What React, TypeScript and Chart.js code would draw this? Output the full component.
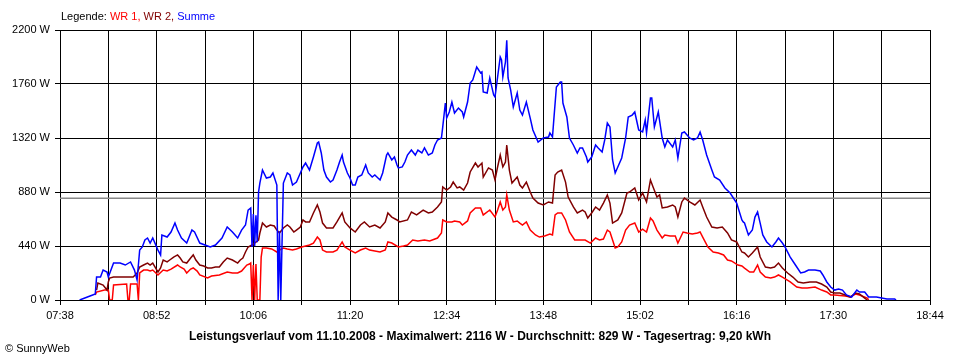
import React, { useEffect, useRef } from "react";
import { Chart, registerables } from "chart.js";

Chart.register(...registerables);

// ---- axis / labels ----
const startTime = "07:38";
const endTime = "18:44";
const xLabelTimes = ["07:38", "08:52", "10:06", "11:20", "12:34", "13:48", "15:02", "16:16", "17:30", "18:44"];
const yTicks = [0, 440, 880, 1320, 1760, 2200];
const averageW = 829;

const legendPrefix = "Legende: ";
const seriesNames = ["WR 1", "WR 2", "Summe"];
const titleText = "Leistungsverlauf vom 11.10.2008 - Maximalwert: 2116 W - Durchschnitt: 829 W - Tagesertrag: 9,20 kWh";
const copyrightText = "© SunnyWeb";

// ---- data: minutes after 07:38, watts ----
const sumMin = [15, 19, 25, 27, 28, 31, 33, 36, 37, 41, 46, 50, 54, 57, 59, 60, 61, 63, 65, 67, 69, 71, 75, 77, 78, 82, 85, 88, 90, 93, 97, 101, 103, 107, 111, 115, 119, 124, 128, 132, 136, 139, 142, 144, 146, 147, 148, 149, 150, 151, 152, 153, 155, 158, 161, 163, 166, 167, 168, 169, 171, 174, 176, 178, 181, 184, 186, 188, 191, 194, 197, 198, 200, 202, 204, 207, 209, 212, 214, 216, 217, 220, 222, 224, 226, 228, 231, 234, 236, 239, 241, 245, 247, 250, 251, 254, 256, 258, 259, 262, 264, 266, 269, 272, 274, 277, 279, 282, 285, 287, 289, 292, 293, 295, 296, 298, 300, 302, 305, 308, 309, 312, 314, 316, 319, 322, 323, 324, 327, 329, 332, 333, 335, 337, 338, 339, 341, 342, 343, 345, 347, 350, 352, 354, 357, 360, 362, 366, 370, 374, 375, 377, 378, 380, 383, 384, 385, 388, 390, 393, 396, 398, 400, 403, 404, 407, 410, 412, 415, 417, 419, 421, 423, 425, 427, 430, 433, 435, 438, 440, 443, 446, 448, 449, 452, 453, 455, 458, 461, 463, 465, 469, 471, 473, 476, 478, 482, 485, 488, 490, 492, 495, 499, 501, 505, 509, 513, 518, 522, 523, 524, 527, 530, 532, 534, 536, 538, 541, 545, 548, 550, 553, 555, 559, 563, 567, 570, 573, 578, 582, 584, 587, 590, 593, 596, 599, 602, 606, 610, 612, 616, 619, 625, 633, 639, 640];
const sumW = [0, 16, 41, 49, 187, 187, 244, 228, 187, 301, 301, 285, 310, 244, 163, 285, 407, 432, 489, 505, 464, 505, 407, 367, 530, 513, 554, 627, 570, 505, 464, 570, 554, 464, 448, 432, 448, 505, 595, 554, 505, 570, 611, 733, 750, 432, 700, 440, 690, 470, 880, 953, 1059, 994, 1002, 1035, 937, 0, 560, 0, 953, 1035, 1019, 937, 961, 1035, 1084, 1116, 1059, 1165, 1279, 1287, 1198, 1059, 1002, 961, 978, 1059, 1124, 1181, 1124, 1035, 994, 937, 937, 1002, 1019, 1100, 1035, 1002, 1019, 978, 1035, 1181, 1198, 1141, 1165, 1100, 1076, 1084, 1124, 1181, 1222, 1181, 1222, 1198, 1239, 1181, 1198, 1263, 1304, 1320, 1410, 1605, 1483, 1532, 1613, 1524, 1564, 1532, 1491, 1613, 1768, 1793, 1898, 1850, 1858, 1695, 1687, 1809, 1670, 1654, 1817, 1980, 1956, 1817, 1939, 2116, 1809, 1711, 1573, 1687, 1548, 1507, 1613, 1480, 1385, 1287, 1320, 1328, 1361, 1328, 1467, 1736, 1776, 1776, 1605, 1491, 1320, 1263, 1198, 1239, 1239, 1165, 1124, 1165, 1263, 1239, 1206, 1304, 1442, 1410, 1141, 1035, 1084, 1157, 1320, 1491, 1507, 1532, 1385, 1369, 1467, 1361, 1646, 1646, 1410, 1532, 1320, 1247, 1304, 1247, 1304, 1157, 1361, 1369, 1320, 1304, 1320, 1369, 1304, 1181, 1059, 1002, 978, 913, 872, 790, 652, 636, 627, 530, 570, 676, 717, 627, 530, 473, 432, 473, 505, 464, 432, 350, 285, 220, 228, 244, 244, 236, 204, 147, 106, 81, 90, 81, 41, 24, 81, 65, 65, 24, 24, 8, 8, 0];

const wr2Min = [28, 29, 33, 36, 37, 38, 41, 50, 56, 59, 61, 64, 67, 69, 71, 75, 77, 79, 82, 84, 87, 90, 92, 94, 97, 100, 102, 104, 107, 110, 113, 116, 119, 122, 125, 128, 132, 136, 138, 140, 142, 144, 147, 152, 153, 155, 158, 161, 164, 166, 168, 171, 174, 176, 179, 181, 184, 186, 188, 191, 194, 197, 199, 201, 204, 209, 212, 216, 218, 222, 226, 230, 233, 237, 241, 245, 249, 251, 254, 258, 260, 266, 269, 273, 278, 282, 285, 289, 292, 293, 296, 299, 301, 304, 306, 309, 312, 314, 318, 320, 323, 324, 328, 331, 333, 335, 337, 339, 341, 342, 344, 346, 350, 352, 354, 357, 360, 362, 366, 370, 374, 377, 379, 381, 384, 387, 389, 393, 396, 400, 402, 404, 407, 410, 413, 416, 419, 421, 423, 427, 430, 434, 436, 440, 443, 446, 449, 452, 454, 457, 459, 461, 465, 469, 471, 473, 476, 478, 482, 486, 490, 492, 495, 499, 503, 507, 511, 514, 518, 522, 524, 527, 530, 534, 536, 540, 544, 547, 550, 553, 557, 561, 565, 569, 574, 579, 583, 587, 590, 593, 597, 601, 605, 609, 612, 616, 618];
const wr2W = [81, 139, 122, 81, 147, 179, 187, 187, 187, 220, 269, 285, 301, 285, 301, 228, 261, 326, 310, 326, 350, 367, 342, 310, 301, 342, 367, 326, 285, 277, 261, 261, 269, 269, 310, 342, 326, 301, 326, 342, 391, 432, 448, 489, 546, 627, 595, 611, 603, 570, 546, 587, 611, 595, 554, 570, 595, 652, 636, 636, 709, 774, 717, 627, 587, 587, 636, 709, 636, 587, 554, 611, 636, 595, 611, 587, 636, 709, 676, 652, 636, 652, 717, 693, 733, 709, 717, 758, 799, 921, 896, 921, 961, 913, 921, 896, 953, 1043, 1116, 1084, 1116, 1002, 1076, 1059, 978, 1084, 1181, 1084, 1124, 1263, 1059, 953, 1002, 937, 913, 961, 880, 831, 790, 774, 799, 790, 1019, 1043, 1059, 961, 839, 758, 709, 733, 717, 668, 709, 758, 733, 790, 856, 790, 627, 652, 709, 872, 880, 913, 815, 872, 799, 978, 921, 839, 856, 750, 758, 774, 758, 676, 799, 831, 799, 774, 815, 758, 676, 595, 587, 595, 546, 489, 473, 391, 383, 350, 383, 432, 350, 269, 261, 269, 301, 261, 220, 187, 147, 139, 147, 147, 130, 106, 65, 57, 57, 41, 24, 57, 49, 16, 0];

const wr1Min = [27, 28, 34, 37, 38, 40, 41, 51, 52, 53, 54, 59, 60, 61, 64, 67, 69, 71, 75, 79, 82, 85, 90, 92, 95, 97, 100, 102, 105, 107, 113, 116, 122, 128, 132, 136, 139, 143, 145, 146, 147, 148, 149, 150, 151, 152, 153, 154, 155, 158, 162, 166, 168, 171, 174, 178, 181, 185, 188, 191, 194, 197, 199, 201, 204, 209, 212, 216, 218, 222, 226, 230, 234, 237, 241, 245, 249, 251, 254, 259, 263, 266, 270, 274, 279, 283, 289, 292, 293, 296, 300, 302, 306, 308, 312, 314, 318, 322, 324, 328, 329, 333, 335, 337, 339, 341, 342, 344, 347, 350, 352, 354, 357, 360, 364, 367, 371, 375, 377, 379, 381, 384, 387, 390, 394, 398, 402, 406, 410, 413, 416, 419, 421, 425, 427, 430, 433, 436, 440, 443, 446, 449, 452, 454, 457, 461, 463, 467, 471, 473, 477, 480, 484, 488, 490, 492, 496, 500, 504, 508, 511, 514, 519, 522, 524, 528, 531, 534, 536, 540, 544, 547, 550, 553, 559, 564, 568, 572, 578, 583, 587, 590, 593, 601, 605, 609, 612, 618, 619];
const wr1W = [41, 65, 81, 81, 0, 0, 122, 130, 0, 0, 130, 130, 0, 220, 244, 244, 236, 244, 204, 244, 236, 252, 285, 269, 252, 220, 252, 261, 236, 204, 179, 195, 204, 228, 220, 220, 236, 285, 293, 301, 0, 285, 0, 293, 0, 0, 0, 350, 424, 424, 416, 391, 407, 424, 416, 407, 416, 432, 440, 448, 464, 513, 489, 407, 391, 391, 407, 473, 432, 407, 383, 407, 424, 407, 399, 391, 407, 473, 464, 432, 440, 448, 489, 481, 489, 481, 505, 546, 652, 636, 636, 644, 636, 611, 644, 709, 750, 750, 693, 725, 733, 676, 733, 799, 733, 758, 856, 733, 636, 644, 627, 611, 636, 570, 530, 513, 522, 538, 530, 693, 709, 709, 652, 554, 489, 489, 489, 464, 505, 489, 497, 570, 554, 424, 432, 473, 570, 611, 627, 554, 578, 554, 668, 644, 570, 505, 530, 522, 522, 464, 554, 546, 538, 546, 554, 513, 432, 391, 383, 367, 326, 318, 285, 277, 260, 228, 228, 285, 228, 187, 179, 187, 204, 187, 147, 106, 98, 98, 106, 81, 65, 41, 41, 33, 24, 49, 41, 16, 0];

const colors = { wr1: "#ff0000", wr2: "#800000", sum: "#0000ff", grid: "#000000", avg: "#888888" };
const FONT = "'Liberation Sans', Arial, sans-serif";

function toMin(t: string): number {
  const [h, m] = t.split(":").map(Number);
  return h * 60 + m;
}
function fmt(v: number): string {
  const h = Math.floor(v / 60);
  const m = Math.round(v - h * 60);
  return String(h).padStart(2, "0") + ":" + String(m).padStart(2, "0");
}

export default function App() {
  const ref = useRef<HTMLCanvasElement | null>(null);

  useEffect(() => {
    document.body.style.margin = "0";
    const start = toMin(startTime);
    const end = toMin(endTime);
    const labelMins = xLabelTimes.map(toMin);
    const gridMins: number[] = [];
    labelMins.forEach((v, i) => {
      gridMins.push(v);
      if (i < labelMins.length - 1) gridMins.push((v + labelMins[i + 1]) / 2);
    });
    const pts = (mins: number[], w: number[]) => mins.map((m, i) => ({ x: start + m, y: w[i] }));

    const chart = new Chart(ref.current as HTMLCanvasElement, {
      type: "line",
      data: {
        datasets: [
          { label: seriesNames[2], data: pts(sumMin, sumW), borderColor: colors.sum, borderWidth: 1.5 },
          { label: seriesNames[1], data: pts(wr2Min, wr2W), borderColor: colors.wr2, borderWidth: 1.5 },
          { label: seriesNames[0], data: pts(wr1Min, wr1W), borderColor: colors.wr1, borderWidth: 1.5 },
          { label: "avg", data: [{ x: start, y: averageW }, { x: end, y: averageW }], borderColor: colors.avg, borderWidth: 1.5 },
        ],
      },
      options: {
        animation: false,
        responsive: false,
        maintainAspectRatio: false,
        parsing: false as any,
        normalized: true,
        layout: { padding: { top: 30, right: 30, left: 0, bottom: 0 } },
        plugins: { legend: { display: false }, tooltip: { enabled: false } },
        elements: { point: { radius: 0 }, line: { tension: 0 } },
        scales: {
          x: {
            type: "linear",
            min: start,
            max: end,
            afterBuildTicks: (s: any) => {
              s.ticks = gridMins.map((v) => ({ value: v }));
            },
            afterFit: (s: any) => {
              s.height = 60;
            },
            ticks: {
              autoSkip: false,
              maxRotation: 0,
              minRotation: 0,
              padding: 4,
              color: "#000",
              font: { family: FONT, size: 11 },
              callback: (v: any) => (labelMins.includes(Number(v)) ? fmt(Number(v)) : ""),
            },
            grid: { color: colors.grid, lineWidth: 1, tickLength: 5, drawTicks: true },
            border: { color: colors.grid },
          },
          y: {
            min: yTicks[0],
            max: yTicks[yTicks.length - 1],
            afterBuildTicks: (s: any) => {
              s.ticks = yTicks.map((v) => ({ value: v }));
            },
            afterFit: (s: any) => {
              s.width = 60;
            },
            ticks: {
              padding: 5,
              color: "#000",
              font: { family: FONT, size: 11 },
              callback: (v: any) => v + " W",
            },
            grid: { color: colors.grid, lineWidth: 1, tickLength: 5, drawTicks: true },
            border: { color: colors.grid },
          },
        },
      },
    });
    return () => chart.destroy();
  }, []);

  return (
    <div style={{ position: "relative", width: 960, height: 360, background: "#fff", fontFamily: FONT }}>
      <canvas ref={ref} width={960} height={360} style={{ position: "absolute", left: 0, top: 0 }} />
      <div style={{ position: "absolute", left: 61, top: 9, fontSize: 11, whiteSpace: "nowrap", lineHeight: "14px" }}>
        <span style={{ color: "#000" }}>{legendPrefix}</span>
        <span style={{ color: colors.wr1 }}>{seriesNames[0]},</span>{" "}
        <span style={{ color: colors.wr2 }}>{seriesNames[1]},</span>{" "}
        <span style={{ color: colors.sum }}>{seriesNames[2]}</span>
      </div>
      <div style={{ position: "absolute", left: 0, width: 960, top: 329, textAlign: "center", fontSize: 12, fontWeight: "bold", whiteSpace: "nowrap", lineHeight: "15px" }}>
        {titleText}
      </div>
      <div style={{ position: "absolute", left: 5, top: 341, fontSize: 11, whiteSpace: "nowrap", lineHeight: "14px" }}>
        {copyrightText}
      </div>
    </div>
  );
}
